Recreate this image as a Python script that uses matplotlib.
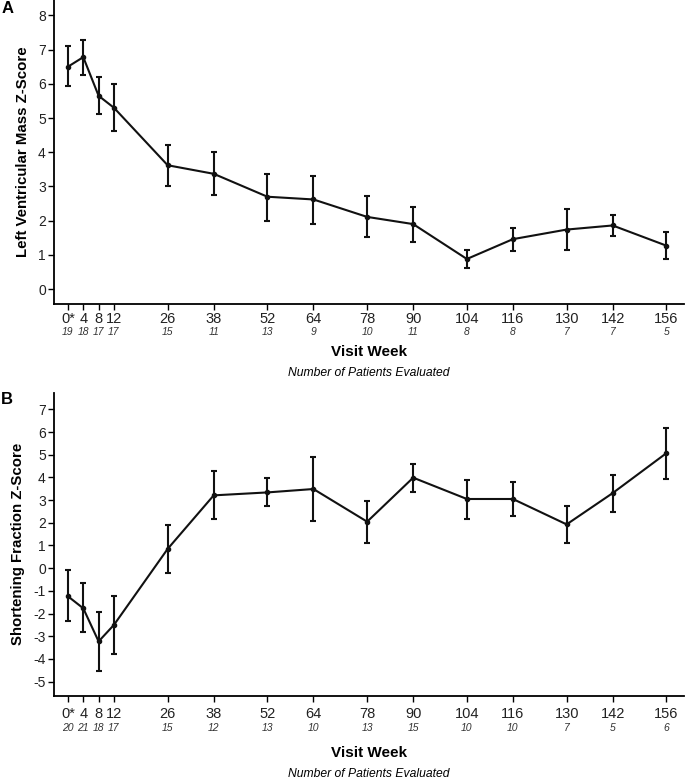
import matplotlib
matplotlib.use("Agg")
import matplotlib.pyplot as plt
import matplotlib.transforms as mtransforms

plt.rcParams["font.family"] = ["Liberation Sans", "DejaVu Sans"]

# ── Data ────────────────────────────────────────────────────────────
weeks = [0, 4, 8, 12, 26, 38, 52, 64, 78, 90, 104, 116, 130, 142, 156]
week_labels = ["0*", "4", "8", "12", "26", "38", "52", "64", "78", "90",
               "104", "116", "130", "142", "156"]

# Panel A: left ventricular mass z-score
lvm_mean = [6.50, 6.78, 5.65, 5.30, 3.62, 3.37, 2.70, 2.62, 2.11, 1.90,
            0.88, 1.46, 1.74, 1.86, 1.27]
lvm_upper = [7.10, 7.28, 6.20, 6.00, 4.22, 4.00, 3.37, 3.31, 2.72, 2.41,
             1.14, 1.78, 2.33, 2.16, 1.66]
lvm_lower = [5.93, 6.27, 5.12, 4.62, 3.02, 2.75, 2.00, 1.91, 1.52, 1.38,
             0.61, 1.11, 1.15, 1.56, 0.89]
lvm_n = [19, 18, 17, 17, 15, 11, 13, 9, 10, 11, 8, 8, 7, 7, 5]

# Panel B: shortening fraction z-score
sf_mean = [-1.24, -1.77, -3.23, -2.50, 0.85, 3.21, 3.34, 3.49, 2.05, 3.99,
           3.05, 3.05, 1.93, 3.31, 5.07]
sf_upper = [-0.10, -0.66, -1.94, -1.21, 1.91, 4.29, 3.96, 4.92, 2.95, 4.59,
            3.90, 3.79, 2.75, 4.12, 6.16]
sf_lower = [-2.34, -2.83, -4.52, -3.78, -0.22, 2.15, 2.74, 2.09, 1.13, 3.37,
            2.16, 2.30, 1.10, 2.49, 3.95]
sf_n = [20, 21, 18, 17, 15, 12, 13, 10, 13, 15, 10, 10, 7, 5, 6]


def draw_panel(ax, mean, lower, upper, n, ylabel, yticks, ylim, offsets):
    tick_pad, n_off, week_off, count_off = offsets
    yerr = [[m - lo for m, lo in zip(mean, lower)],
            [hi - m for m, hi in zip(mean, upper)]]
    ax.errorbar(weeks, mean, yerr=yerr, color="#111111", lw=1.5,
                elinewidth=1.5, capsize=2.5, capthick=1.5,
                marker="o", markersize=3)

    ax.set_xlim(-3.6, 160.5)
    ax.set_ylim(*ylim)
    ax.set_xticks(weeks)
    ax.set_xticklabels(week_labels, fontsize=10.5, color="#222222")
    ax.set_yticks(yticks)
    ax.set_yticklabels([str(t) for t in yticks], fontsize=10, color="#222222")
    ax.tick_params(direction="out", length=4, width=1, pad=2)
    ax.tick_params(axis="x", pad=tick_pad)

    for side in ("top", "right"):
        ax.spines[side].set_visible(False)
    for side in ("left", "bottom"):
        ax.spines[side].set_linewidth(1.3)

    ax.set_ylabel(ylabel, fontsize=10.8, fontweight="bold", labelpad=6)

    # patient counts below the tick labels
    trans = mtransforms.blended_transform_factory(ax.transData, ax.transAxes)
    for w, k in zip(weeks, n):
        ax.annotate(str(k), xy=(w, 0), xycoords=trans, xytext=(0, -n_off),
                    textcoords="offset points", ha="center", va="center",
                    fontsize=7.5, style="italic", color="#333333")

    ax.annotate("Visit Week", xy=(0.5, 0), xycoords="axes fraction",
                xytext=(0, -week_off), textcoords="offset points", ha="center",
                va="center", fontsize=11, fontweight="bold")
    ax.annotate("Number of Patients Evaluated", xy=(0.5, 0),
                xycoords="axes fraction", xytext=(0, -count_off),
                textcoords="offset points", ha="center", va="center",
                fontsize=8.7, style="italic")


fig = plt.figure(figsize=(6.85, 7.81), dpi=100)

ax_a = fig.add_axes([0.079, 0.611, 0.919, 0.389])
draw_panel(ax_a, lvm_mean, lvm_lower, lvm_upper, lvm_n,
           "Left Ventricular Mass Z-Score", list(range(0, 9)),
           (-0.43, 8.45), (2, 20, 34.5, 50))

ax_b = fig.add_axes([0.079, 0.109, 0.919, 0.388])
draw_panel(ax_b, sf_mean, sf_lower, sf_upper, sf_n,
           "Shortening Fraction Z-Score", list(range(-5, 8)),
           (-5.63, 7.73), (4, 23, 41, 56.5))

fig.text(8 / 685, 1 - 1 / 781, "A", ha="center", va="top",
         fontsize=12, fontweight="bold")
fig.text(7 / 685, 1 - 392 / 781, "B", ha="center", va="top",
         fontsize=12, fontweight="bold")

fig.savefig("out.png", dpi=100)
